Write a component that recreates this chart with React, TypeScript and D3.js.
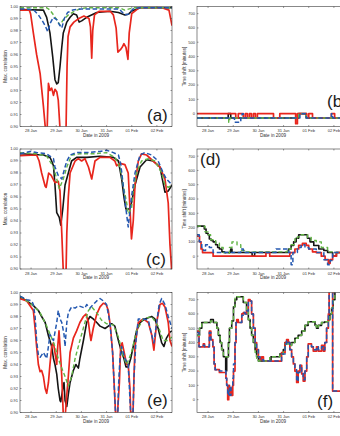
import React from 'react';
import * as d3 from 'd3';

type Pt = [number, number]; // [day of 2009 counted from Jan 1 = 1, value]

// ---------- (a) max. correlation ----------
const corrA_red: Pt[] = [[27.56,0.997],[27.93,0.997],[27.98,0.994],[28.09,0.978],[28.22,0.96],[28.36,0.944],[28.49,0.917],[28.57,0.898],[28.64,0.898],[28.69,0.936],[28.75,0.93],[28.82,0.932],[28.89,0.926],[28.95,0.931],[29.02,0.929],[29.08,0.922],[29.15,0.898],[29.39,0.898],[29.43,0.95],[29.47,0.975],[29.55,0.983],[29.7,0.987],[29.9,0.99],[30.1,0.992],[30.3,0.99],[30.36,0.983],[30.41,0.957],[30.45,0.98],[30.52,0.993],[30.7,0.996],[31.15,0.996],[31.27,0.993],[31.38,0.982],[31.45,0.962],[31.55,0.964],[31.62,0.966],[31.69,0.969],[31.77,0.966],[31.85,0.956],[31.9,0.978],[32.0,0.994],[32.3,0.999],[33.2,0.999],[33.48,0.997],[33.6,0.984]];
const corrA_black: Pt[] = [[27.56,0.9975],[28.49,0.997],[28.62,0.991],[28.75,0.978],[28.86,0.958],[28.95,0.939],[29.02,0.9355],[29.08,0.9366],[29.15,0.95],[29.22,0.966],[29.28,0.978],[29.42,0.987],[29.55,0.991],[29.68,0.994],[29.81,0.993],[29.91,0.987],[30.01,0.988],[30.21,0.991],[30.61,0.995],[31.13,0.996],[31.47,0.995],[31.73,0.993],[31.86,0.9935],[31.99,0.996],[32.33,0.999],[33.6,0.999]];
const corrA_green: Pt[] = [[27.56,0.999],[28.62,0.999],[28.75,0.997],[28.89,0.993],[29.02,0.989],[29.15,0.9845],[29.28,0.989],[29.48,0.993],[29.68,0.9955],[29.94,0.998],[30.2,0.999],[31.5,0.999],[31.72,0.997],[31.9,0.998],[32.1,0.999],[33.6,0.999]];
const corrA_blue: Pt[] = [[27.56,0.998],[28.09,0.9975],[28.29,0.993],[28.45,0.988],[28.56,0.984],[28.66,0.979],[28.76,0.986],[28.88,0.991],[29.02,0.989],[29.12,0.985],[29.22,0.982],[29.32,0.99],[29.45,0.995],[29.65,0.997],[30.0,0.998],[31.5,0.998],[31.72,0.993],[31.86,0.9935],[32.05,0.998],[32.3,0.999],[33.6,0.999]];

// ---------- (b) time shift ----------
const shiftB_red: Pt[] = [[27.56,0],[29.1,-30],[29.2,0],[29.4,-30],[29.48,0],[29.56,-30],[29.64,0],[29.72,-30],[29.8,0],[29.88,-30],[29.96,0],[30.6,-30],[30.85,0],[31.48,-70],[31.55,0],[31.92,-30],[32.0,0],[32.15,-30],[32.9,0],[33.03,-30],[33.6,-30]];
const shiftB_black: Pt[] = [[27.56,-30],[28.8,0],[28.9,-30],[31.6,0],[31.9,-30],[33.6,-30]];
const shiftB_green: Pt[] = [[27.56,-30],[28.82,-60],[28.86,-30],[31.6,0],[31.9,-30],[33.6,-30]];
const shiftB_blue: Pt[] = [[27.56,-30],[29.05,-60],[29.3,-30],[29.35,0],[29.4,-30],[31.65,0],[31.9,-30],[32.9,0],[32.95,-30],[33.6,-30]];

// ---------- (c) max. correlation ----------
const corrC_red: Pt[] = [[27.56,0.9945],[28.22,0.995],[28.32,0.99],[28.42,0.98],[28.56,0.969],[28.6,0.968],[28.7,0.98],[28.8,0.978],[28.95,0.972],[29.08,0.973],[29.15,0.965],[29.22,0.93],[29.28,0.898],[29.39,0.898],[29.42,0.93],[29.48,0.96],[29.55,0.98],[29.75,0.99],[29.88,0.992],[30.01,0.99],[30.14,0.992],[30.28,0.985],[30.41,0.975],[30.54,0.99],[30.74,0.993],[31.13,0.993],[31.33,0.99],[31.4,0.986],[31.53,0.988],[31.73,0.987],[31.86,0.98],[31.93,0.95],[31.99,0.925],[32.06,0.94],[32.13,0.97],[32.26,0.99],[32.39,0.996],[32.59,0.995],[32.85,0.99],[33.12,0.985],[33.32,0.975],[33.45,0.955],[33.52,0.92],[33.6,0.895]];
const corrC_black: Pt[] = [[27.56,0.996],[28.5,0.995],[28.75,0.993],[28.82,0.99],[28.89,0.986],[28.95,0.97],[29.02,0.947],[29.12,0.943],[29.18,0.9365],[29.26,0.95],[29.35,0.97],[29.48,0.98],[29.61,0.99],[29.81,0.993],[30.21,0.993],[30.74,0.994],[31.27,0.993],[31.47,0.99],[31.6,0.975],[31.69,0.96],[31.77,0.95],[31.9,0.95],[31.99,0.955],[32.13,0.97],[32.33,0.985],[32.59,0.991],[32.85,0.99],[33.12,0.985],[33.32,0.964],[33.45,0.965],[33.6,0.97]];
const corrC_green: Pt[] = [[27.56,0.997],[28.22,0.996],[28.62,0.994],[28.89,0.985],[29.02,0.975],[29.12,0.967],[29.28,0.975],[29.42,0.985],[29.61,0.995],[29.94,0.996],[30.47,0.996],[31.0,0.997],[31.33,0.993],[31.53,0.985],[31.66,0.97],[31.8,0.955],[31.86,0.946],[31.99,0.95],[32.06,0.965],[32.19,0.98],[32.39,0.99],[32.66,0.992],[32.92,0.99],[33.19,0.98],[33.32,0.97],[33.45,0.968],[33.6,0.97]];
const corrC_blue: Pt[] = [[27.56,0.996],[27.96,0.998],[28.22,0.997],[28.62,0.996],[28.89,0.992],[28.95,0.985],[29.08,0.978],[29.22,0.975],[29.35,0.985],[29.42,0.99],[29.55,0.995],[29.81,0.997],[30.21,0.997],[30.74,0.998],[31.0,0.999],[31.27,0.997],[31.47,0.995],[31.56,0.988],[31.66,0.97],[31.77,0.95],[31.86,0.935],[31.99,0.96],[32.13,0.98],[32.33,0.995],[32.52,0.997],[32.79,0.995],[33.05,0.99],[33.25,0.98],[33.38,0.975],[33.6,0.97]];

// ---------- (d) time shift ----------
const shiftD_red: Pt[] = [[27.56,140],[27.66,100],[27.72,50],[27.78,25],[28.2,0],[30.2,0],[30.3,25],[30.45,0],[31.1,0],[31.25,25],[31.45,50],[31.6,75],[31.75,90],[31.9,75],[32.0,50],[32.15,30],[32.3,25],[32.5,0],[32.65,-25],[32.78,-50],[32.85,-25],[32.95,0],[33.1,25],[33.6,25]];
const shiftD_black: Pt[] = [[27.56,210],[27.85,190],[27.92,160],[28.0,150],[28.05,120],[28.12,110],[28.2,100],[28.3,80],[28.38,60],[28.45,50],[28.55,30],[28.65,25],[28.9,50],[28.95,25],[29.75,0],[29.85,25],[30.95,25],[31.2,50],[31.3,75],[31.4,100],[31.5,125],[31.6,150],[31.95,125],[32.05,100],[32.2,75],[32.4,50],[32.6,40],[32.75,25],[32.95,0],[33.1,25],[33.6,25]];
const shiftD_green: Pt[] = [[27.56,210],[27.88,170],[28.0,150],[28.1,115],[28.3,90],[28.45,60],[28.6,25],[28.7,20],[28.85,60],[28.95,100],[29.15,80],[29.3,40],[29.45,30],[30.95,30],[31.15,50],[31.3,80],[31.45,125],[31.55,135],[31.7,150],[31.95,130],[32.1,110],[32.3,100],[32.5,60],[32.75,30],[33.0,25],[33.6,25]];
const shiftD_blue: Pt[] = [[27.56,150],[27.65,100],[27.75,60],[27.82,40],[27.9,80],[28.05,60],[28.2,25],[29.2,25],[29.3,50],[29.4,25],[30.6,25],[30.7,50],[31.05,50],[31.2,25],[31.3,-60],[31.37,25],[31.55,60],[31.7,80],[31.85,60],[32.0,50],[32.3,25],[32.6,-25],[32.75,-60],[32.85,-30],[32.95,25],[33.6,25]];

// ---------- (e) max. correlation ----------
const corrE_red: Pt[] = [[27.56,0.995],[27.83,0.993],[28.09,0.985],[28.16,0.97],[28.22,0.955],[28.29,0.94],[28.36,0.934],[28.42,0.935],[28.49,0.93],[28.56,0.92],[28.62,0.916],[28.69,0.925],[28.75,0.94],[28.82,0.955],[28.89,0.958],[28.95,0.95],[29.02,0.94],[29.06,0.955],[29.11,0.968],[29.18,0.945],[29.22,0.93],[29.28,0.898],[29.36,0.898],[29.42,0.915],[29.48,0.93],[29.55,0.95],[29.68,0.962],[29.81,0.968],[29.94,0.975],[30.08,0.98],[30.18,0.982],[30.28,0.975],[30.34,0.965],[30.38,0.96],[30.47,0.97],[30.61,0.982],[30.74,0.988],[30.87,0.991],[30.98,0.99],[31.07,0.985],[31.16,0.97],[31.24,0.95],[31.31,0.92],[31.36,0.898],[31.43,0.898],[31.51,0.925],[31.56,0.955],[31.62,0.958],[31.8,0.94],[31.86,0.94],[31.93,0.92],[31.96,0.898],[32.05,0.898],[32.09,0.93],[32.13,0.955],[32.26,0.975],[32.46,0.978],[32.66,0.975],[32.79,0.965],[32.88,0.952],[32.99,0.975],[33.12,0.99],[33.22,0.991],[33.32,0.988],[33.45,0.975],[33.52,0.96],[33.6,0.955]];
const corrE_black: Pt[] = [[27.56,0.9965],[27.83,0.993],[28.09,0.989],[28.29,0.985],[28.42,0.98],[28.56,0.975],[28.69,0.964],[28.82,0.955],[28.89,0.945],[28.95,0.94],[29.02,0.932],[29.08,0.92],[29.15,0.91],[29.18,0.909],[29.26,0.92],[29.31,0.925],[29.35,0.91],[29.42,0.905],[29.48,0.915],[29.55,0.925],[29.68,0.935],[29.78,0.94],[29.88,0.937],[29.94,0.945],[30.08,0.96],[30.21,0.975],[30.34,0.98],[30.47,0.978],[30.61,0.975],[30.74,0.972],[30.94,0.97],[31.07,0.972],[31.2,0.974],[31.33,0.972],[31.47,0.96],[31.6,0.95],[31.69,0.945],[31.77,0.938],[31.86,0.938],[31.96,0.945],[32.06,0.955],[32.19,0.968],[32.33,0.975],[32.52,0.978],[32.79,0.98],[32.92,0.978],[33.05,0.97],[33.19,0.958],[33.28,0.955],[33.38,0.962],[33.52,0.967],[33.6,0.968]];
const corrE_green: Pt[] = [[27.56,0.997],[27.83,0.993],[28.09,0.989],[28.36,0.983],[28.62,0.972],[28.82,0.962],[28.95,0.955],[29.08,0.945],[29.22,0.937],[29.35,0.93],[29.48,0.922],[29.61,0.93],[29.75,0.945],[29.94,0.96],[30.14,0.975],[30.28,0.985],[30.41,0.988],[30.61,0.983],[30.8,0.977],[31.0,0.974],[31.27,0.973],[31.47,0.963],[31.66,0.947],[31.8,0.94],[31.99,0.95],[32.19,0.968],[32.46,0.978],[32.79,0.98],[33.05,0.972],[33.25,0.96],[33.45,0.96],[33.6,0.963]];
const corrE_blue: Pt[] = [[27.56,0.997],[27.83,0.994],[28.03,0.993],[28.09,0.99],[28.16,0.98],[28.22,0.96],[28.29,0.948],[28.36,0.946],[28.49,0.95],[28.62,0.945],[28.69,0.955],[28.75,0.965],[28.89,0.96],[29.02,0.975],[29.08,0.985],[29.15,0.978],[29.22,0.975],[29.31,0.965],[29.35,0.955],[29.42,0.975],[29.48,0.983],[29.61,0.988],[29.75,0.987],[29.88,0.989],[30.01,0.988],[30.14,0.987],[30.21,0.99],[30.34,0.987],[30.47,0.99],[30.61,0.993],[30.74,0.995],[30.87,0.993],[31.0,0.99],[31.13,0.975],[31.24,0.95],[31.31,0.92],[31.36,0.898],[31.45,0.898],[31.47,0.92],[31.53,0.945],[31.6,0.955],[31.73,0.945],[31.86,0.94],[31.96,0.898],[32.05,0.898],[32.09,0.93],[32.17,0.96],[32.26,0.978],[32.46,0.978],[32.66,0.977],[32.79,0.965],[32.88,0.958],[32.99,0.975],[33.09,0.99],[33.19,0.995],[33.32,0.99],[33.45,0.98],[33.6,0.97]];

// ---------- (f) time shift ----------
const shiftF_red: Pt[] = [[27.56,480],[27.64,370],[27.81,390],[27.86,370],[28.05,480],[28.11,420],[28.19,370],[28.24,250],[28.28,210],[28.45,190],[28.71,150],[28.74,100],[28.78,0],[28.82,100],[28.85,30],[28.89,80],[28.93,30],[28.98,100],[29.01,200],[29.07,400],[29.11,540],[29.14,560],[29.2,540],[29.34,600],[29.4,610],[29.47,600],[29.53,620],[29.6,700],[29.67,690],[29.73,600],[29.8,500],[29.87,400],[29.93,350],[30.0,300],[30.06,280],[30.13,300],[30.2,270],[30.92,330],[31.06,400],[31.12,420],[31.19,400],[31.25,350],[31.32,300],[31.39,250],[31.45,200],[31.52,120],[31.58,200],[31.65,240],[31.72,180],[31.78,130],[31.85,200],[31.92,300],[31.98,390],[32.11,370],[32.18,340],[32.31,370],[32.38,340],[32.51,380],[32.58,340],[32.64,400],[32.71,500],[32.78,600],[32.81,760],[32.95,60],[33.6,60]];
const shiftF_black: Pt[] = [[27.56,450],[27.66,500],[27.75,540],[28.1,560],[28.21,540],[28.35,500],[28.41,450],[28.48,400],[28.54,350],[28.61,300],[28.7,200],[28.74,300],[28.81,400],[28.85,500],[28.94,550],[29.01,650],[29.07,700],[29.14,720],[29.4,680],[29.53,620],[29.6,560],[29.67,500],[29.73,450],[29.8,400],[29.87,350],[29.93,300],[30.0,270],[30.5,300],[30.85,320],[30.99,350],[31.06,400],[31.25,380],[31.32,400],[31.45,430],[31.58,450],[31.72,480],[31.85,520],[31.98,545],[32.25,520],[32.31,500],[32.38,520],[32.51,540],[32.64,545],[32.78,560],[32.84,600],[32.91,640],[32.97,700],[33.04,760],[33.6,760]];
const shiftF_green: Pt[] = [[27.56,450],[27.66,500],[27.75,540],[28.1,550],[28.21,540],[28.35,500],[28.41,450],[28.48,400],[28.54,350],[28.61,300],[28.74,300],[28.81,400],[28.85,500],[28.94,560],[29.01,650],[29.07,710],[29.14,720],[29.4,680],[29.53,620],[29.6,560],[29.67,500],[29.73,450],[29.8,400],[29.87,330],[29.93,290],[30.0,270],[30.45,300],[30.85,320],[30.99,350],[31.06,390],[31.25,380],[31.32,400],[31.45,430],[31.58,450],[31.72,480],[31.85,520],[31.98,545],[32.25,520],[32.31,500],[32.38,520],[32.51,540],[32.64,545],[32.78,560],[32.84,600],[32.91,640],[32.97,700],[33.04,760],[33.6,760]];
const shiftF_blue: Pt[] = [[27.56,470],[27.64,370],[27.81,380],[27.86,370],[28.05,470],[28.11,420],[28.19,370],[28.24,250],[28.28,210],[28.45,200],[28.71,150],[28.74,100],[28.78,30],[28.82,80],[28.86,30],[28.91,100],[28.98,150],[29.01,250],[29.07,400],[29.11,540],[29.2,540],[29.34,590],[29.4,610],[29.47,600],[29.53,620],[29.6,690],[29.67,690],[29.73,600],[29.8,500],[29.87,400],[29.93,350],[30.0,300],[30.06,280],[30.2,270],[30.92,320],[31.06,390],[31.12,410],[31.19,400],[31.25,350],[31.32,300],[31.39,250],[31.45,210],[31.52,130],[31.58,190],[31.65,240],[31.72,190],[31.78,140],[31.85,200],[31.92,300],[31.98,380],[32.11,370],[32.18,350],[32.31,370],[32.38,350],[32.51,370],[32.58,350],[32.64,400],[32.71,500],[32.78,600],[32.81,760],[32.95,60],[33.6,60]];

// axis ticks and labels
const dateTickDays = [28, 29, 30, 31, 32, 33];
const corrTicks = [0.90, 0.91, 0.92, 0.93, 0.94, 0.95, 0.96, 0.97, 0.98, 0.99, 1.00];
const shiftTicks = [0, 100, 200, 300, 400, 500, 600, 700];
const dayDomain: [number, number] = [27.56, 33.6];
const corrDomain: [number, number] = [0.9, 1.0];
const shiftDomain: [number, number] = [-90, 750];

const dayToDate = (d: number) => new Date(Date.UTC(2009, 0, 1) + (d - 1) * 864e5);
const fmtDate = d3.utcFormat('%d %b');

const COLORS = { red: '#e8261d', black: '#151515', green: '#62b446', blue: '#2458b0' };

type Series = { data: Pt[]; color: string; width: number; dash?: string };
const makeSeries = (red: Pt[], black: Pt[], green: Pt[], blue: Pt[]): Series[] => [
  { data: black, color: COLORS.black, width: 1.6 },
  { data: red, color: COLORS.red, width: 1.7 },
  { data: green, color: COLORS.green, width: 1.4, dash: '4,2.5' },
  { data: blue, color: COLORS.blue, width: 1.5, dash: '4.5,2.5' },
];

const W = 152;
const H = 120;
const FONT = "'Liberation Sans', Arial, Helvetica, sans-serif";

type PanelProps = {
  id: string;
  x0: number;
  y0: number;
  series: Series[];
  kind: 'corr' | 'shift';
  tag: string;
  tagX: number;
  tagY: number;
};

function Panel({ id, x0, y0, series, kind, tag, tagX, tagY }: PanelProps) {
  const x = d3.scaleUtc().domain(dayDomain.map(dayToDate)).range([x0, x0 + W]);
  const y = d3.scaleLinear().domain(kind === 'corr' ? corrDomain : shiftDomain).range([y0 + H, y0]);
  const yTicks = kind === 'corr' ? corrTicks : shiftTicks;
  const yFmt = kind === 'corr' ? d3.format('.2f') : d3.format('d');
  const line = d3
    .line<Pt>()
    .x((p) => x(dayToDate(p[0])))
    .y((p) => y(p[1]))
    .curve(kind === 'corr' ? d3.curveLinear : d3.curveStepAfter);
  const tl = 1.5;
  const axisColor = '#3a3a3a';
  return (
    <g>
      <defs>
        <clipPath id={`clip-${id}`}>
          <rect x={x0} y={y0} width={W} height={H} />
        </clipPath>
      </defs>
      <rect x={x0} y={y0} width={W} height={H} fill="#fff" />
      <g clipPath={`url(#clip-${id})`}>
        {series.map((s, i) => (
          <path
            key={i}
            d={line(s.data) || ''}
            fill="none"
            stroke={s.color}
            strokeWidth={s.width}
            strokeDasharray={s.dash}
            strokeLinejoin="round"
          />
        ))}
      </g>
      <rect x={x0} y={y0} width={W} height={H} fill="none" stroke={axisColor} strokeWidth={0.6} />
      {yTicks.map((t) => (
        <g key={`y${t}`}>
          <line x1={x0} x2={x0 + tl} y1={y(t)} y2={y(t)} stroke={axisColor} strokeWidth={0.5} />
          <line x1={x0 + W} x2={x0 + W - tl} y1={y(t)} y2={y(t)} stroke={axisColor} strokeWidth={0.5} />
          <text x={x0 - 2} y={y(t)} dy="0.35em" textAnchor="end" fontSize={4} fill="#333" fontFamily={FONT}>
            {yFmt(t)}
          </text>
        </g>
      ))}
      {dateTickDays.map((d) => {
        const px = x(dayToDate(d));
        return (
          <g key={`x${d}`}>
            <line x1={px} x2={px} y1={y0 + H} y2={y0 + H - tl} stroke={axisColor} strokeWidth={0.5} />
            <line x1={px} x2={px} y1={y0} y2={y0 + tl} stroke={axisColor} strokeWidth={0.5} />
            <text x={px} y={y0 + H + 5.6} textAnchor="middle" fontSize={4} fill="#333" fontFamily={FONT}>
              {fmtDate(dayToDate(d))}
            </text>
          </g>
        );
      })}
      <text x={x0 + W / 2} y={y0 + H + 10} textAnchor="middle" fontSize={4.6} fill="#333" fontFamily={FONT}>
        Date in 2009
      </text>
      <text
        transform={`translate(${kind === 'corr' ? x0 - 13 : x0 - 11},${y0 + H / 2}) rotate(-90)`}
        textAnchor="middle"
        fontSize={4.6}
        fill="#333"
        fontFamily={FONT}
      >
        {kind === 'corr' ? 'Max. correlation' : 'Time shift [minutes]'}
      </text>
      <text x={tagX} y={tagY} fontSize={17} fill="#1a1a1a" fontFamily={FONT}>
        {tag}
      </text>
    </g>
  );
}

const COL_X = [20, 197];
const ROW_Y = [6.5, 149, 292.5];

const panels = [
  { id: 'a', col: 0, row: 0, kind: 'corr' as const, series: makeSeries(corrA_red, corrA_black, corrA_green, corrA_blue), tag: '(a)', tagX: 147, tagY: 120.5 },
  { id: 'b', col: 1, row: 0, kind: 'shift' as const, series: makeSeries(shiftB_red, shiftB_black, shiftB_green, shiftB_blue), tag: '(b)', tagX: 327, tagY: 106.5 },
  { id: 'c', col: 0, row: 1, kind: 'corr' as const, series: makeSeries(corrC_red, corrC_black, corrC_green, corrC_blue), tag: '(c)', tagX: 146, tagY: 264.5 },
  { id: 'd', col: 1, row: 1, kind: 'shift' as const, series: makeSeries(shiftD_red, shiftD_black, shiftD_green, shiftD_blue), tag: '(d)', tagX: 200, tagY: 164.5 },
  { id: 'e', col: 0, row: 2, kind: 'corr' as const, series: makeSeries(corrE_red, corrE_black, corrE_green, corrE_blue), tag: '(e)', tagX: 147, tagY: 405.5 },
  { id: 'f', col: 1, row: 2, kind: 'shift' as const, series: makeSeries(shiftF_red, shiftF_black, shiftF_green, shiftF_blue), tag: '(f)', tagX: 317, tagY: 406.5 },
];

export default function App() {
  return (
    <svg
      width={340}
      height={436}
      viewBox="0 0 340 436"
      style={{ position: 'absolute', left: 0, top: 0, background: '#fff' }}
    >
      <rect width={340} height={436} fill="#fff" />
      {panels.map((p) => (
        <Panel
          key={p.id}
          id={p.id}
          x0={COL_X[p.col]}
          y0={ROW_Y[p.row]}
          series={p.series}
          kind={p.kind}
          tag={p.tag}
          tagX={p.tagX}
          tagY={p.tagY}
        />
      ))}
    </svg>
  );
}
